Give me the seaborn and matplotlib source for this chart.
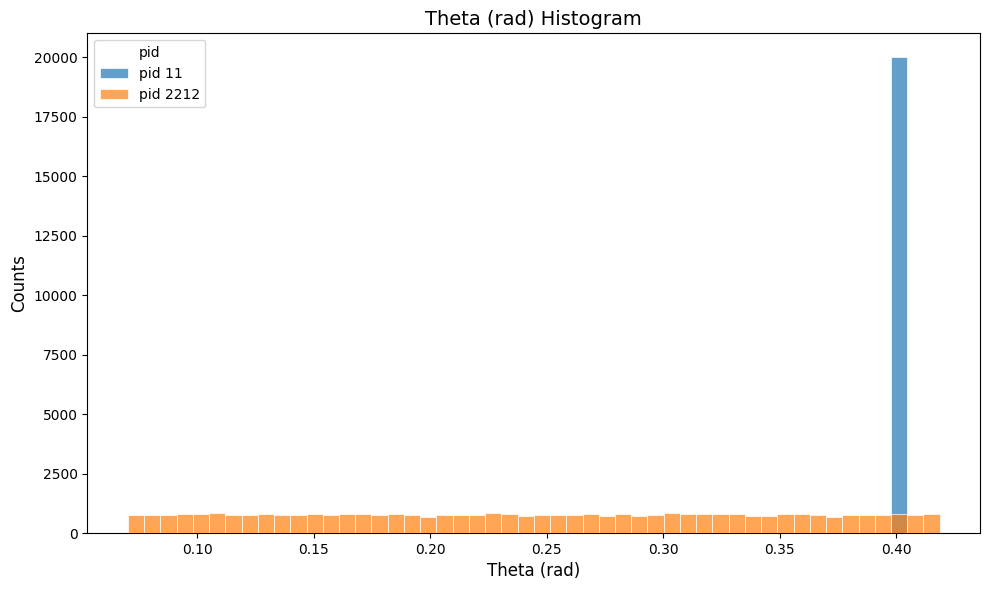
import numpy as np
import pandas as pd
import matplotlib.pyplot as plt
import matplotlib.colors as mcolors
import seaborn as sns

# binning used for theta (rad), 50 common bins
theta_min = 0.0703
theta_max = 0.4187
n_bins = 50

# counts per bin
counts_2212 = [772, 772, 772, 814, 814, 856, 772, 772, 814, 772,
               772, 814, 772, 814, 814, 772, 814, 772, 688, 772,
               772, 772, 856, 814, 730, 772, 772, 772, 814, 730,
               814, 730, 772, 856, 814, 814, 814, 814, 730, 730,
               814, 814, 772, 688, 772, 772, 772, 814, 772, 814]
# electrons all land in a single bin
bin_11 = 47
count_11 = 20000

edges = np.linspace(theta_min, theta_max, n_bins + 1)
centers = (edges[:-1] + edges[1:]) / 2

df = pd.concat([
    pd.DataFrame({"Theta (rad)": [centers[bin_11]], "w": [count_11], "pid": "pid 11"}),
    pd.DataFrame({"Theta (rad)": centers, "w": counts_2212, "pid": "pid 2212"}),
], ignore_index=True)

fig, ax = plt.subplots(figsize=(9.89, 5.9), dpi=100)
sns.histplot(data=df, x="Theta (rad)", weights="w", hue="pid",
             hue_order=["pid 11", "pid 2212"], bins=n_bins,
             binrange=(theta_min, theta_max),
             alpha=0.7, edgecolor="white", linewidth=0.5, ax=ax)

# protons drawn on top of the electron spike
orange = mcolors.to_rgb("C1")
for p in ax.patches:
    if np.allclose(p.get_facecolor()[:3], orange, atol=0.02):
        p.set_zorder(3)

sns.move_legend(ax, "upper left")
ax.set_title("Theta (rad) Histogram", fontsize=14)
ax.set_xlabel("Theta (rad)", fontsize=12)
ax.set_ylabel("Counts", fontsize=12)
fig.subplots_adjust(left=0.0883, right=0.9912, top=0.9435, bottom=0.0966)
plt.savefig("out.png")
